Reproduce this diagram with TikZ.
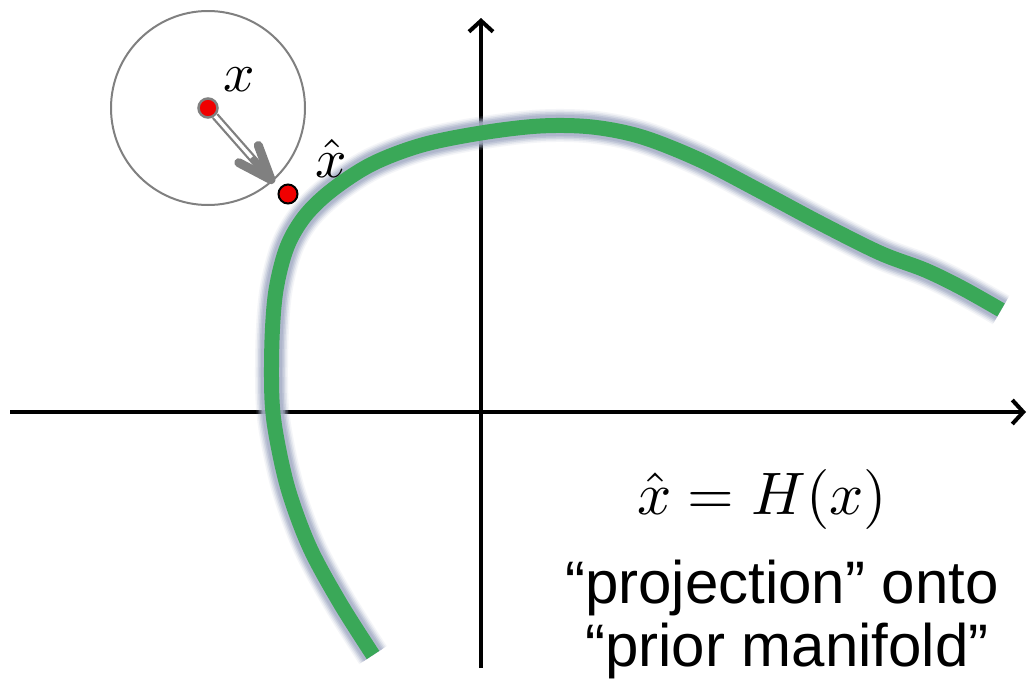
\documentclass[tikz,border=0pt]{standalone}
\usepackage{fontspec}
\setmainfont{Liberation Sans}
\usetikzlibrary{arrows.meta}
\definecolor{curvegreen}{RGB}{58,168,88}
\definecolor{glow}{RGB}{168,176,200}
\definecolor{dotred}{RGB}{240,0,0}
\definecolor{ringgray}{RGB}{128,128,128}
\newcommand{\bigmath}[2]{\scalebox{#1}{$#2$}}
\begin{document}
\begin{tikzpicture}[x=1pt,y=-1pt,
  axis/.style={line width=4pt, -{Straight Barb[length=11pt,width=24pt,line width=4pt]}},
  ring/.style={draw=ringgray, line width=2pt},
  dotx/.style={circle, fill=dotred, draw=ringgray, line width=2.5pt, minimum size=19pt, inner sep=0pt},
  dotxhat/.style={circle, fill=dotred, draw=black, line width=2pt, minimum size=19pt, inner sep=0pt},
  mlabel/.style={inner sep=0pt},
  note/.style={inner sep=0pt, anchor=base, font=\fontsize{60}{62}\selectfont},
  manifold/.style={line width=15pt, curvegreen, line cap=butt, line join=round}
]
\useasboundingbox (0,0) rectangle (1028,694);
\fill[white] (0,0) rectangle (1028,694);

% axes
\coordinate (xl) at (10,412);
\coordinate (xr) at (1026,412);
\coordinate (yb) at (481,668);
\coordinate (yt) at (481,18);
\draw[axis] (xl) -- (xr);
\draw[axis] (yb) -- (yt);

% manifold curve with glow
\def\manifoldpath{plot[smooth, tension=0.55] coordinates {(373,655) (340,603) (310,548) (289,492) (277,440) (272,400) (272,340) (276,290) (287,247) (305,216) (332,190) (372,164) (422,145) (481,133) (540,126) (592,127) (642,137) (700,160) (760,191) (820,223) (880,253) (925,270) (962,288) (1001,310)}}
\foreach \w/\o in {33/0.12, 30/0.2, 27/0.3, 24/0.45, 21/0.65}{
  \draw[glow, line width=\w pt, opacity=\o, line join=round] \manifoldpath;
}
\draw[manifold] \manifoldpath;

% circle and points
\node[ring, circle, minimum size=194pt, inner sep=0pt] (ball) at (208,108) {};
\node[dotx] (xdot) at (208,108) {};
\node[dotxhat] (xhatdot) at (288,194) {};
\coordinate (tip) at (274,183);
\draw[ringgray, line width=8pt, -{Straight Barb[length=34pt,width=26pt,line width=9pt,round]}] (xdot) -- (tip);
\draw[white, line width=3.5pt, shorten >=34pt] (xdot) -- (tip);

% labels
\node[mlabel] (xlab) at (239,80) {\bigmath{5.5}{x}};
\node[mlabel] (xhatlab) at (331,158) {\bigmath{5.5}{\hat{x}}};

\node[mlabel] (formula) at (762,499) {\bigmath{6.0}{\hat{x}=H(x)}};
\node[note] (line1) at (782,603) {“projection” onto};
\node[note] (line2) at (787,666) {“prior manifold”};
\end{tikzpicture}
\end{document}
